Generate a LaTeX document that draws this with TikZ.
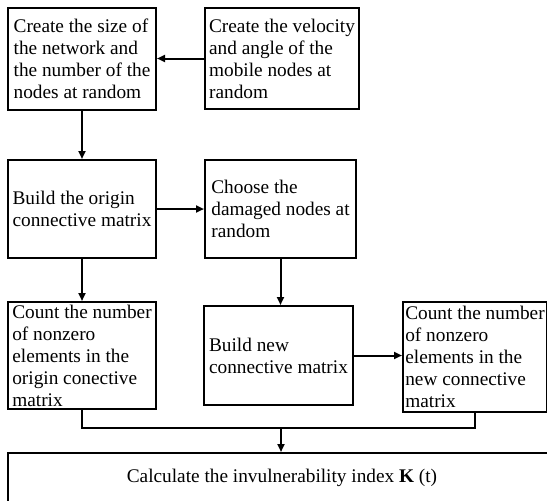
\documentclass[tikz,border=0pt]{standalone}
\usepackage{fontspec}
\setmainfont{Liberation Serif}
\usetikzlibrary{arrows.meta}
\begin{document}
\begin{tikzpicture}[x=1pt,y=-1pt,line width=2pt,
  stepbox/.style={draw,rectangle,align=left,inner sep=0pt,
    font=\fontsize{19.3}{22}\selectfont},
  arr/.style={-{Triangle[length=8pt,width=7pt]}}]
\useasboundingbox (0,0) rectangle (547,501);
\clip (0,0) rectangle (547,501);
\node[stepbox,minimum width=148pt,minimum height=102pt] (size) at (82,59)
  {Create the size of\\the network and\\the number of the\\nodes at random};
\node[stepbox,minimum width=154pt,minimum height=101pt] (velo) at (282,58.5)
  {Create the velocity\\and angle of the\\mobile nodes at\\random};
\node[stepbox,minimum width=148pt,minimum height=98pt] (origin) at (82,209)
  {Build the origin\\connective matrix};
\node[stepbox,minimum width=151pt,minimum height=98pt] (damage) at (280.5,209)
  {Choose the\\damaged nodes at\\random};
\node[stepbox,minimum width=148pt,minimum height=107pt] (countold) at (82,355.5)
  {Count the number\\of nonzero\\elements in the\\origin conective\\matrix};
\node[stepbox,minimum width=149pt,minimum height=99pt] (newmat) at (278.5,355.5)
  {Build new\\connective matrix};
\node[stepbox,minimum width=144pt,minimum height=110pt] (countnew) at (475,357)
  {Count the number\\of nonzero\\elements in the\\new connective\\matrix};
\node[stepbox,align=center,minimum width=548pt,text height=29pt,text depth=40pt,anchor=north] (index) at (282,452)
  {Calculate the invulnerability index \textbf{K} (t)};
\coordinate (join) at (281,428);
\draw[arr] (velo.west) -- (velo.west -| size.east);
\draw[arr] (size.south) -- (origin.north);
\draw[arr] (origin.east) -- (origin.east -| damage.west);
\draw[arr] (origin.south) -- (countold.north);
\draw[arr] (damage.south) -- (damage.south |- newmat.north);
\draw[arr] (newmat.east) -- (newmat.east -| countnew.west);
\draw (countold.south) |- (join) -| (countnew.south);
\draw[arr] (join) -- (join |- index.north);
\end{tikzpicture}
\end{document}
